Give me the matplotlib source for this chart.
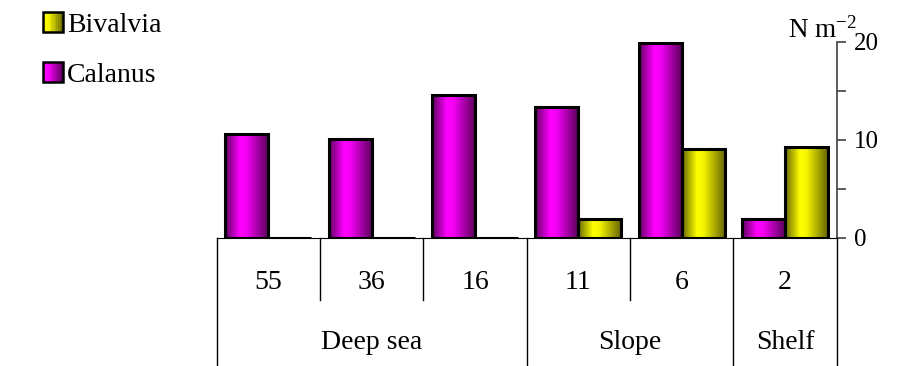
import numpy as np
import matplotlib
matplotlib.use('Agg')
import matplotlib.pyplot as plt
from matplotlib.colors import LinearSegmentedColormap
from matplotlib.legend_handler import HandlerBase
from matplotlib.patches import Rectangle

# stations (depth order) grouped by zone
stations = ['55', '36', '16', '11', '6', '2']
zones = ['Deep sea', 'Slope', 'Shelf']
zone_sizes = [3, 2, 1]
calanus = [10.6, 10.1, 14.6, 13.3, 19.9, 1.9]
bivalvia = [0, 0, 0, 1.9, 9.1, 9.3]

plt.rcParams['font.family'] = 'Liberation Serif'
plt.rcParams['mathtext.fontset'] = 'custom'
plt.rcParams['mathtext.rm'] = 'Liberation Serif'
plt.rcParams['mathtext.it'] = 'Liberation Serif:italic'

MAGENTA = LinearSegmentedColormap.from_list(
    'mag', [(0, '#5c005c'), (0.35, '#ff00ff'), (0.5, '#f500f5'), (1, '#5c005c')])
YELLOW = LinearSegmentedColormap.from_list(
    'yel', [(0, '#666600'), (0.35, '#ffff00'), (0.5, '#f5f500'), (1, '#666600')])


class GradientSquare(HandlerBase):
    def __init__(self, cmap):
        super().__init__()
        self.cmap = cmap

    def create_artists(self, legend, orig_handle, xdescent, ydescent,
                       width, height, fontsize, trans):
        n = 12
        arts = []
        for i in range(n):
            arts.append(Rectangle((-xdescent + width * i / n, -ydescent), width / n, height,
                                  facecolor=self.cmap(0.3 + 0.7 * (i + 0.5) / n),
                                  edgecolor='none', transform=trans))
        arts.append(Rectangle((-xdescent, -ydescent), width, height, facecolor='none',
                              edgecolor='black', lw=1.8, transform=trans))
        return arts


def gradient_bars(ax, x, heights, width, cmap):
    bars = ax.bar(x, heights, width, facecolor='none', edgecolor='black',
                  linewidth=2.2, zorder=3)
    grad = np.linspace(0, 1, 256).reshape(1, -1)
    for b in bars:
        if b.get_height() <= 0:
            continue
        ax.imshow(grad, cmap=cmap, aspect='auto', interpolation='bilinear',
                  extent=(b.get_x(), b.get_x() + b.get_width(), 0, b.get_height()),
                  zorder=2)
    return bars


fig = plt.figure(figsize=(9.14, 3.66), dpi=100)
ax = fig.add_axes([216.7 / 914, 1 - 238 / 366, 620 / 914, (238 - 41.7) / 366])

x = np.arange(len(stations))
w = 0.415
bars_c = gradient_bars(ax, x - w / 2, calanus, w, MAGENTA)
bars_b = gradient_bars(ax, x + w / 2, bivalvia, w, YELLOW)

ax.set_xlim(-0.5, len(stations) - 0.5)
ax.set_ylim(0, 20)

# right-hand axis only
ax.spines['top'].set_visible(False)
ax.spines['left'].set_visible(False)
ax.spines['bottom'].set_color('black')
ax.spines['right'].set_color('#404040')
ax.spines['right'].set_linewidth(1.2)
ax.yaxis.tick_right()
ax.set_yticks([0, 10, 20])
ax.set_yticks([5, 15], minor=True)
ax.tick_params(axis='y', which='both', direction='out', length=6.5, width=1.2,
               color='#404040', pad=6, labelsize=18)
ax.set_xticks([])

# table of station / zone labels below the axis
edges = np.cumsum([0] + zone_sizes) - 0.5
for b in np.arange(len(stations) + 1) - 0.5:
    bottom = -13.5 if b in edges else -6.3
    ax.plot([b, b], [0, bottom], color='black', lw=1, clip_on=False)
for i, s in enumerate(stations):
    ax.text(i, -4.57, s, ha='center', va='center', fontsize=20)
for z, lo, hi in zip(zones, edges[:-1], edges[1:]):
    ax.text((lo + hi) / 2, -10.6, z, ha='center', va='center', fontsize=20)

fig.text(857 / 914, 1 - 38 / 366, 'N m$^{-2}$', ha='right', va='baseline', fontsize=19.5)

fig.legend([bars_b, bars_c], ['Bivalvia', 'Calanus'],
           handler_map={bars_b: GradientSquare(YELLOW), bars_c: GradientSquare(MAGENTA)},
           loc='upper left', bbox_to_anchor=(43 / 914, 1 - 12 / 366), frameon=False,
           fontsize=20, handlelength=0.72, handleheight=0.72, handletextpad=0.15,
           labelspacing=0.88, borderpad=0, borderaxespad=0)

fig.savefig('out.png', dpi=100)
